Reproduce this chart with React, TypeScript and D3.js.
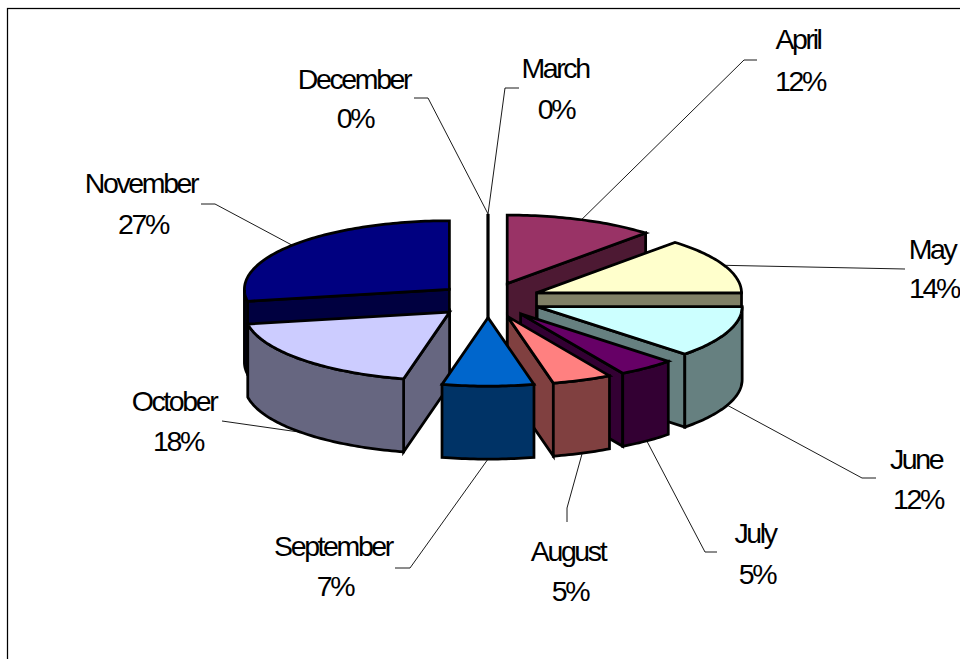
import React from "react";
import * as d3 from "d3";

const months = ["March", "April", "May", "June", "July", "August", "September", "October", "November", "December"];
const shares = [0, 11.8, 13.2, 12.2, 4.5, 4.7, 7.2, 18.6, 27.8, 0];
const explosions = [1, 1, 1, 1, 1, 1, 1, 1, 0.95, 1];
const percentLabels = ["0%", "12%", "14%", "12%", "5%", "5%", "7%", "18%", "27%", "0%"];
const topColors = ["#9999FF", "#993366", "#FFFFCC", "#CCFFFF", "#660066", "#FF8080", "#0066CC", "#CCCCFF", "#000080", "#9999FF"];
const wallColors = ["#4D4D80", "#4D1933", "#808066", "#668080", "#330033", "#804040", "#003366", "#666680", "#000040", "#4D4D80"];

// painter's order, back to front (indices into months)
const paintOrder = [0, 9, 1, 2, 3, 4, 5, 8, 7, 6];

// label layout: centre x of month line / baseline of month line / centre x of percent line / baseline of percent line
const labelLayout: Record<string, { mx: number; my: number; px: number; py: number; leader: [number, number][] }> = {
  December: { mx: 354, my: 89, px: 355, py: 128, leader: [[414, 98], [428, 98]] },
  March: { mx: 555, my: 78, px: 556, py: 119, leader: [[519, 88], [505, 88]] },
  April: { mx: 798, my: 49, px: 800, py: 91, leader: [[757, 60], [744, 60]] },
  May: { mx: 932, my: 259, px: 934, py: 298, leader: [[905, 269]] },
  June: { mx: 916, my: 469, px: 918, py: 509, leader: [[876, 478], [862, 478]] },
  July: { mx: 755, my: 543, px: 757, py: 584, leader: [[717, 552], [705, 552]] },
  August: { mx: 568, my: 561, px: 570, py: 601, leader: [[567, 522], [567, 508]] },
  September: { mx: 333, my: 556, px: 335, py: 596, leader: [[395, 568], [410, 568]] },
  October: { mx: 174, my: 411, px: 178, py: 451, leader: [[222, 421]] },
  November: { mx: 141, my: 193, px: 143, py: 234, leader: [[201, 204], [215, 204]] },
};

const CX = 488;
const CY = 300;
const RX = 205;
const RY = 68.5;
const EX = 53;
const EY = 17.6;
const DEPTH = 73;

const arcs = d3.pie<number>().sort(null).value((d) => d)(shares);
const xScale = d3.scaleLinear().domain([-1, 1]).range([-RX, RX]);
const yScale = d3.scaleLinear().domain([-1, 1]).range([-RY, RY]);
const line = d3.line<[number, number]>();
const toPath = (pts: [number, number][]) => line(pts) + "Z";

function apex(a: number, e: number): [number, number] {
  return [CX + EX * e * Math.sin(a), CY - EY * e * Math.cos(a)];
}
function rim(o: [number, number], t: number): [number, number] {
  return [o[0] + xScale(Math.sin(t)), o[1] - yScale(Math.cos(t))];
}
function sampleArc(o: [number, number], a: number, b: number): [number, number][] {
  const n = Math.max(2, Math.ceil(Math.abs(b - a) / 0.02));
  return d3.range(n + 1).map((i) => rim(o, a + ((b - a) * i) / n));
}
const down = (p: [number, number]): [number, number] => [p[0], p[1] + DEPTH];

function Slice({ i }: { i: number }) {
  const { startAngle: a, endAngle: b } = arcs[i];
  const mid = (a + b) / 2;
  const o = apex(mid, explosions[i]);
  const common = { stroke: "#000", strokeWidth: 2.75, strokeLinejoin: "miter" as const, strokeMiterlimit: 4 };
  if (a === b) {
    return <path d={line([rim(o, a), down(o)])!} {...common} fill="none" />;
  }
  const top = [o, ...sampleArc(o, a, b)] as [number, number][];
  const walls: [number, number][][] = [];
  if (Math.sin(a) < -1e-6) {
    const r = rim(o, a);
    walls.push([o, r, down(r), down(o)]);
  }
  if (Math.sin(b) > 1e-6) {
    const r = rim(o, b);
    walls.push([o, r, down(r), down(o)]);
  }
  const lo = Math.max(a, Math.PI / 2);
  const hi = Math.min(b, (3 * Math.PI) / 2);
  if (hi > lo) {
    const seg = sampleArc(o, lo, hi);
    walls.push([...seg, ...seg.slice().reverse().map(down)]);
  }
  return (
    <g>
      {walls.map((w, k) => (
        <path key={k} d={toPath(w)} fill={wallColors[i]} {...common} />
      ))}
      <path d={toPath(top)} fill={topColors[i]} {...common} />
    </g>
  );
}

function anchor(i: number): [number, number] {
  const { startAngle: a, endAngle: b } = arcs[i];
  const mid = (a + b) / 2;
  const o = apex(mid, explosions[i]);
  const p = rim(o, mid);
  return Math.cos(mid) < 0 ? down(p) : p;
}

const fontStyle: React.CSSProperties = {
  fontFamily: "'Liberation Sans', Arial, sans-serif",
  fontSize: 28.5,
  letterSpacing: "-2.4px",
};

export default function App() {
  return (
    <svg
      width={960}
      height={659}
      viewBox="0 0 960 659"
      style={{ position: "absolute", left: 0, top: 0, display: "block", background: "#fff" }}
    >
      <rect x={7.5} y={8.5} width={1000} height={700} fill="#fff" stroke="#000" strokeWidth={1.25} />
      {months.map((m, i) => {
        const l = labelLayout[m];
        const pts = [...l.leader, anchor(i)] as [number, number][];
        return <path key={m} d={line(pts)!} fill="none" stroke="#000" strokeWidth={0.9} />;
      })}
      {paintOrder.map((i) => (
        <Slice key={months[i]} i={i} />
      ))}
      {months.map((m, i) => {
        const l = labelLayout[m];
        return (
          <g key={m} style={fontStyle} fill="#000" textAnchor="middle">
            <text x={l.mx} y={l.my}>{m}</text>
            <text x={l.px} y={l.py}>{percentLabels[i]}</text>
          </g>
        );
      })}
    </svg>
  );
}
